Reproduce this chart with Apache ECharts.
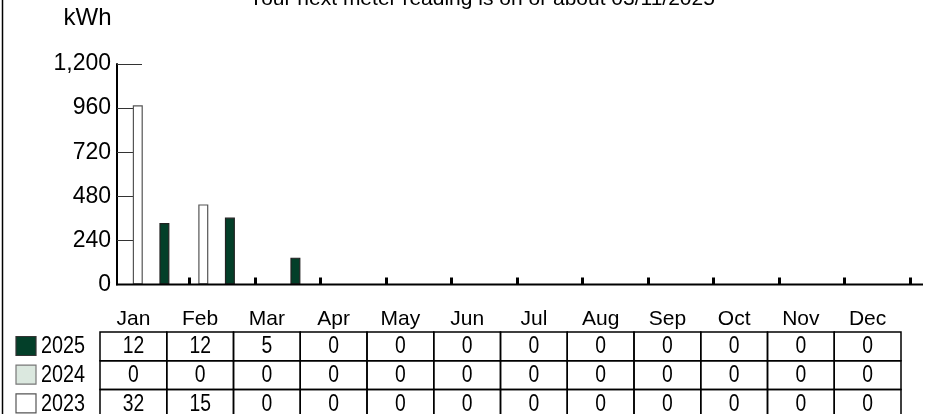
<!DOCTYPE html>
<html><head><meta charset="utf-8">
<script src="https://cdn.jsdelivr.net/npm/echarts@6/dist/echarts.min.js"></script>
<style>html,body{margin:0;padding:0;background:#fff}#c{width:930px;height:414px}</style>
</head><body><div id="c"></div>
<script>
// ---- data ----
const months = ['Jan','Feb','Mar','Apr','May','Jun','Jul','Aug','Sep','Oct','Nov','Dec'];
const yearLabels = ['2025','2024','2023'];
const kwh2023 = [975,436,0,0,0,0,0,0,0,0,0,0];
const kwh2024 = [0,0,0,0,0,0,0,0,0,0,0,0];
const kwh2025 = [335,364,146,0,0,0,0,0,0,0,0,0];
const table2025 = [12,12,5,0,0,0,0,0,0,0,0,0];
const table2024 = [0,0,0,0,0,0,0,0,0,0,0,0];
const table2023 = [32,15,0,0,0,0,0,0,0,0,0,0];
const yMax = 1200, yStep = 240;
const titleText = 'Your next meter reading is on or about 03/11/2025';
const unitText = 'kWh';

// ---- style ----
const FONT = 'Liberation Sans, Arial, sans-serif';
const cGreen = '#033f29', cLight = '#dbe8df', cWhite = '#ffffff';

const chart = echarts.init(document.getElementById('c'), null, {renderer: 'canvas'});

function barSeries(name, data, fill, border) {
  return {
    name, type: 'bar', data, barWidth: 10, barGap: '33%',
    itemStyle: {color: fill, borderColor: border, borderWidth: 1.2},
    silent: true, animation: false
  };
}

const option = {
  animation: false,
  backgroundColor: '#fff',
  grid: {left: 124, right: 20, top: 64, bottom: 129.5, containLabel: false},
  xAxis: {
    type: 'category', data: months, boundaryGap: true,
    axisLine: {show: false},
    axisTick: {show: true, inside: true, length: 7, interval: (i) => i > 0,
               lineStyle: {color: '#000', width: 3}},
    axisLabel: {show: false},
    splitLine: {show: false}
  },
  yAxis: {
    type: 'value', min: 0, max: yMax, interval: yStep, offset: 7,
    axisLine: {show: true, lineStyle: {color: '#000', width: 2}},
    axisTick: {show: true, inside: true, length: 25, lineStyle: {color: '#333', width: 1}},
    axisLabel: {color: '#000', fontFamily: FONT, fontSize: 23, margin: 6},
    splitLine: {show: false}
  },
  series: [
    barSeries('2023', kwh2023, cWhite, '#555'),
    barSeries('2024', kwh2024, cLight, '#666'),
    barSeries('2025', kwh2025, cGreen, '#222'),
    {name: 'spacer', type: 'bar', data: months.map(() => '-'), barWidth: 8, barGap: '33%', silent: true}
  ]
};
chart.setOption(option);

// ---- graphic: baseline, title, unit, table ----
const y0 = chart.convertToPixel({yAxisIndex: 0}, 0);
const g = [];
const txt = (x, y, text, size, align, sx) => ({
  type: 'text', x, y, scaleX: sx || 1,
  style: {text, font: `${size}px ${FONT}`, fill: '#000', textAlign: align || 'center', textVerticalAlign: 'middle'}
});
g.push({type: 'line', shape: {x1: 2.5, y1: 0, x2: 2.5, y2: 414}, style: {stroke: '#000', lineWidth: 1.5}, z: 10});
g.push({type: 'line', shape: {x1: 116, y1: y0, x2: 923, y2: y0}, style: {stroke: '#000', lineWidth: 2}, z: 10});
g.push(txt(482, -1, titleText, 21));
g.push(txt(87.5, 18, unitText, 24));

const x0 = 100, colW = 66.75, tTop = 332, rowH = 28.7;
months.forEach((m, c) => g.push(txt(x0 + c * colW + colW / 2, 319, m, 21)));
const rows = [table2025, table2024, table2023];
const legendFill = [cGreen, cLight, cWhite];
const legendStroke = ['#333', '#777', '#555'];
rows.forEach((vals, r) => {
  const ry = tTop + r * rowH;
  g.push({type: 'rect', shape: {x: 16, y: ry + 4.5, width: 20, height: 19},
    style: {fill: legendFill[r], stroke: legendStroke[r], lineWidth: 1.2}});
  g.push(txt(41, ry + rowH / 2 + 0.5, yearLabels[r], 23, 'left', 0.86));
  vals.forEach((v, c) => {
    g.push({type: 'rect', shape: {x: x0 + c * colW, y: ry, width: colW, height: rowH},
      style: {fill: 'none', stroke: '#000', lineWidth: 1.5}});
    g.push(txt(x0 + c * colW + colW / 2, ry + rowH / 2 + 0.5, String(v), 23, 'center', 0.84));
  });
});
chart.setOption({graphic: {elements: g}});
</script>
</body></html>
